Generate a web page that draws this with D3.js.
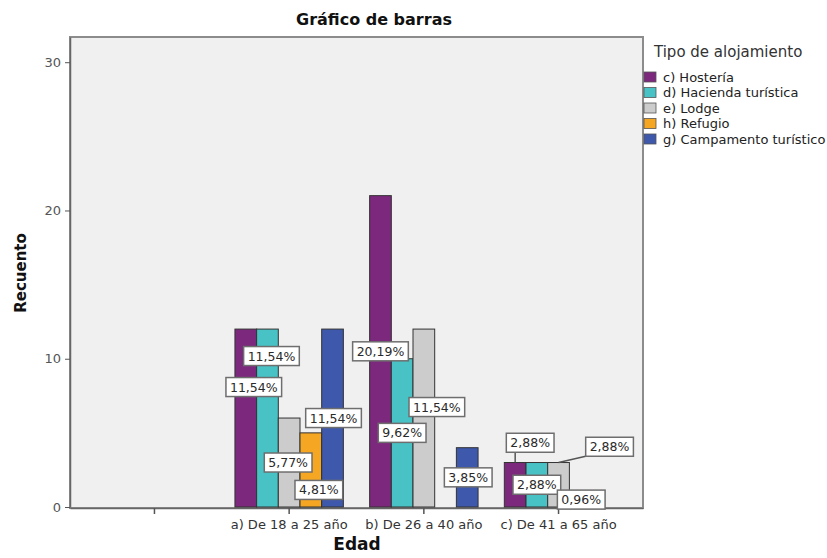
<!DOCTYPE html>
<html><head><meta charset="utf-8">
<script src="https://cdn.jsdelivr.net/npm/d3@7"></script>
<style>
body{margin:0;background:#fff}
svg{display:block;font-family:"DejaVu Sans",sans-serif}
</style>
</head><body>
<svg id="chart" width="827" height="558"></svg>
<script>
// Counts per age group (first group is the blank category)
const categories = ["", "a) De 18 a 25 año", "b) De 26 a 40 año", "c) De 41 a 65 año"];
const seriesNames = ["c) Hostería", "d) Hacienda turística", "e) Lodge", "h) Refugio", "g) Campamento turístico"];
const hosteria   = [0, 12, 21, 3];
const hacienda   = [0, 12, 10, 3];
const lodge      = [0, 6, 12, 3];
const refugio    = [0, 5, 0, 1];
const campamento = [0, 12, 4, 0];
const yTicks = [0, 10, 20, 30];

const seriesValues = [hosteria, hacienda, lodge, refugio, campamento];
const seriesColors = ["#7C287D", "#48C2C5", "#CCCCCC", "#F5A623", "#3E58AC"];

// Label nudges (px) away from the bar middle, keyed "series-category"; third item draws a leader line
const labelNudge = {
  "0-1": [8, -31], "1-1": [4, -62], "2-1": [-1, 0], "3-1": [8, 20], "4-1": [1, 0],
  "2-2": [13, -11], "4-2": [1, 0],
  "0-3": [15, -42, true], "2-3": [51, -38, true], "3-3": [1, 0]
};

const svg = d3.select("#chart");
const plot = {left: 70, top: 37, right: 643, bottom: 508};

const total = d3.sum(seriesValues.flat());
const pct = v => d3.format(".2f")(v / total * 100).replace(".", ",") + "%";

const x = d3.scaleBand().domain(categories).range([plot.left, plot.right])
  .paddingInner(0).paddingOuter(0.127);
const groupW = x.step() * 0.805;
const xs = d3.scaleBand().domain(seriesNames).range([0, groupW]);
const y = d3.scaleLinear().domain([0, 31.7]).range([507, plot.top]);

// Plot background and frame
svg.append("rect")
  .attr("x", plot.left).attr("y", plot.top)
  .attr("width", plot.right - plot.left).attr("height", plot.bottom - plot.top)
  .attr("fill", "#f0f0f0").attr("stroke", "#8c8c8c").attr("stroke-width", 2);

// Title
svg.append("text").attr("x", 374).attr("y", 25).attr("text-anchor", "middle")
  .attr("font-size", 16).attr("font-weight", "bold").attr("fill", "#111")
  .text("Gráfico de barras");

// Y axis
const yAxis = svg.append("g").attr("transform", `translate(${plot.left},0)`)
  .call(d3.axisLeft(y).tickValues(yTicks).tickSize(5).tickSizeOuter(0).tickPadding(4)
    .tickFormat(d3.format("d")));
yAxis.select(".domain").attr("stroke", "#666").attr("stroke-width", 1.5);
yAxis.selectAll(".tick line").attr("stroke", "#555");
yAxis.selectAll(".tick text").attr("font-size", 13).attr("fill", "#555")
  .attr("font-family", "DejaVu Sans, sans-serif");

// X axis
const xAxis = svg.append("g").attr("transform", `translate(0,${plot.bottom})`)
  .call(d3.axisBottom(x).tickSize(6).tickSizeOuter(0).tickPadding(6));
xAxis.select(".domain").attr("stroke", "#666").attr("stroke-width", 1.5);
xAxis.selectAll(".tick line").attr("stroke", "#555").attr("stroke-width", 1.5);
xAxis.selectAll(".tick text").attr("font-size", 13).attr("fill", "#333")
  .attr("font-family", "DejaVu Sans, sans-serif");

// Axis titles
svg.append("text").attr("transform", "translate(26,273) rotate(-90)")
  .attr("text-anchor", "middle").attr("font-size", 15).attr("font-weight", "bold")
  .attr("fill", "#111").text("Recuento");
svg.append("text").attr("x", 357).attr("y", 550).attr("text-anchor", "middle")
  .attr("font-size", 17).attr("font-weight", "bold").attr("fill", "#111").text("Edad");

// Bars
const bars = [];
seriesValues.forEach((vals, si) => {
  vals.forEach((v, ci) => {
    if (v <= 0) return;
    const bx = x(categories[ci]) + (x.bandwidth() - groupW) / 2 + xs(seriesNames[si]);
    bars.push({si, ci, v, x: bx, w: xs.bandwidth(), top: y(v), base: y(0)});
  });
});
svg.append("g").selectAll("rect").data(bars).join("rect")
  .attr("x", d => d.x).attr("y", d => d.top)
  .attr("width", d => d.w).attr("height", d => d.base - d.top)
  .attr("fill", d => seriesColors[d.si])
  .attr("stroke", "#333").attr("stroke-width", 1);

// Percentage labels
const labelLayer = svg.append("g");
const leaderLayer = labelLayer.append("g");
bars.forEach(d => {
  const nudge = labelNudge[`${d.si}-${d.ci}`] || [0, 0];
  const cx = d.x + d.w / 2 + nudge[0];
  const cy = (d.top + d.base) / 2 + nudge[1];
  const g = labelLayer.append("g");
  const box = g.append("rect");
  const t = g.append("text").attr("x", cx).attr("y", cy).attr("dy", "0.36em")
    .attr("text-anchor", "middle").attr("font-size", 12.5).attr("fill", "#2a2a2a")
    .text(pct(d.v));
  const tw = t.node().getComputedTextLength();
  const bw = tw + 8, bh = 19;
  box.attr("x", cx - bw / 2).attr("y", cy - bh / 2).attr("width", bw).attr("height", bh)
    .attr("fill", "#fff").attr("stroke", "#6e6e6e").attr("stroke-width", 1.5);
  if (nudge[2]) {
    const ax = d.x + d.w / 2, ay = d.top;
    const px = Math.max(cx - bw / 2, Math.min(ax, cx + bw / 2));
    const py = Math.max(cy - bh / 2, Math.min(ay, cy + bh / 2));
    leaderLayer.append("line").attr("x1", ax).attr("y1", ay).attr("x2", px).attr("y2", py)
      .attr("stroke", "#555").attr("stroke-width", 1.5);
  }
});

// Legend
const legend = svg.append("g");
legend.append("text").attr("x", 654).attr("y", 57).attr("font-size", 15)
  .attr("fill", "#333").text("Tipo de alojamiento");
seriesNames.forEach((name, i) => {
  const yy = 77 + i * 15.5;
  legend.append("rect").attr("x", 644).attr("y", yy - 5).attr("width", 12).attr("height", 10)
    .attr("fill", seriesColors[i]).attr("stroke", "#555").attr("stroke-width", 0.8);
  legend.append("text").attr("x", 663).attr("y", yy).attr("dy", "0.36em")
    .attr("font-size", 13).attr("fill", "#222").text(name);
});
</script>
</body></html>
